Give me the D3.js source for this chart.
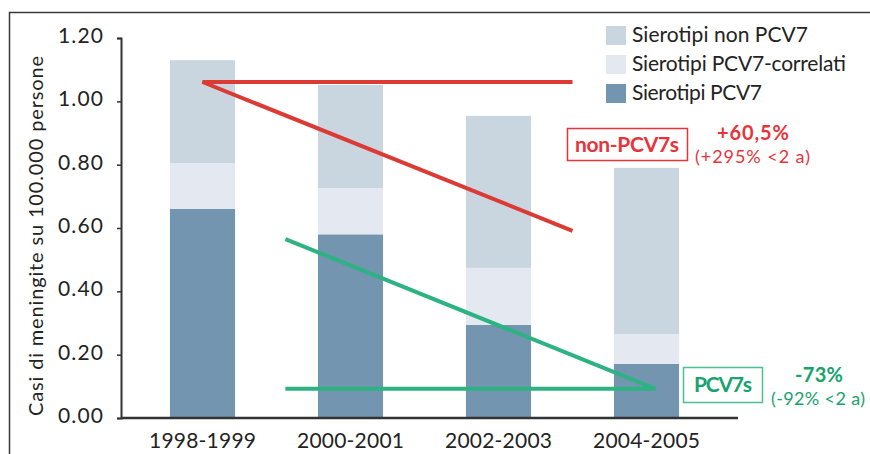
<!DOCTYPE html>
<html>
<head>
<meta charset="utf-8">
<script src="https://cdn.jsdelivr.net/npm/d3@7"></script>
<style>
  html, body { margin: 0; padding: 0; background: #fff; }
  svg { display: block; font-family: "Lato", "DejaVu Sans", sans-serif; }
</style>
</head>
<body>
<svg id="chart" width="870" height="454"></svg>
<script>
// Periods on the x axis
const periods = ["1998-1999", "2000-2001", "2002-2003", "2004-2005"];
// Meningitis cases per 100,000 people, by serotype group
const pcv7 = [0.66, 0.58, 0.294, 0.171];
const pcv7Related = [0.145, 0.146, 0.18, 0.094];
const nonPcv7 = [0.325, 0.326, 0.48, 0.525];
// Y axis ticks
const yTicks = [0, 0.2, 0.4, 0.6, 0.8, 1.0, 1.2];
// Legend entries (top to bottom)
const legendLabels = ["Sierotipi non PCV7", "Sierotipi PCV7-correlati", "Sierotipi PCV7"];
// Trend guides: x as period index, y as cases
const nonPcv7Trend = [[2.5, 1.061], [0, 1.061], [2.5, 0.591]];
const pcv7Trend = [[0.56, 0.565], [3.06, 0.092], [0.56, 0.092]];

const colors = { pcv7: "#7395b0", related: "#e4e9f1", non: "#c9d6e0" };
const red = "#dc3a34", green = "#2db282";
const ink = "#232323";

const svg = d3.select("#chart");

// Frame
svg.append("path")
  .attr("d", "M9.5,454 V12.5 H870")
  .attr("fill", "none").attr("stroke", "#3a3a3a").attr("stroke-width", 1.5);

const x = d3.scaleBand().domain(periods).range([128.5, 720.5])
  .paddingInner(0.56).paddingOuter(0.28);
const y = d3.scaleLinear().domain([0, 1.2]).range([418, 38]);
const xi = d3.scaleLinear().domain([0, 1])
  .range([x(periods[0]) + x.bandwidth() / 2, x(periods[1]) + x.bandwidth() / 2]);

// Stacked bars
const rows = periods.map((p, i) => ({ period: p, pcv7: pcv7[i], related: pcv7Related[i], non: nonPcv7[i] }));
const stack = d3.stack().keys(["pcv7", "related", "non"])(rows);
svg.append("g").selectAll("g").data(stack).join("g")
  .attr("fill", d => colors[d.key])
  .selectAll("rect").data(d => d).join("rect")
  .attr("x", d => x(d.data.period))
  .attr("width", x.bandwidth())
  .attr("y", d => y(d[1]))
  .attr("height", d => y(d[0]) - y(d[1]));

// Y axis
const yAxis = svg.append("g").attr("transform", "translate(121,0)")
  .call(d3.axisLeft(y).tickValues(yTicks).tickFormat(d3.format(".2f")).tickSize(4).tickPadding(14));
yAxis.select(".domain").attr("stroke", "#333").attr("stroke-width", 2);
yAxis.selectAll(".tick line").attr("stroke", "#333").attr("stroke-width", 1.5);
yAxis.selectAll(".tick text")
  .attr("font-size", 21).attr("fill", ink).attr("font-family", "Lato, sans-serif")
  .attr("dy", "0.22em")
  .attr("textLength", 45).attr("lengthAdjust", "spacing");

// X axis
const xAxis = svg.append("g").attr("transform", "translate(0,418)")
  .call(d3.axisBottom(x).tickSize(0).tickPadding(15));
xAxis.select(".domain").attr("d", "M121,0H738").attr("stroke", "#333").attr("stroke-width", 2.5);
xAxis.selectAll(".tick text")
  .attr("font-size", 21).attr("fill", ink).attr("font-family", "Lato, sans-serif")
  .attr("textLength", 107).attr("lengthAdjust", "spacing");

// Y axis title
svg.append("text")
  .attr("transform", "translate(43,236) rotate(-90)")
  .attr("text-anchor", "middle")
  .attr("font-size", 20).attr("fill", ink)
  .attr("textLength", 360).attr("lengthAdjust", "spacing")
  .text("Casi di meningite su 100.000 persone");

// Trend guides
const line = d3.line().x(d => xi(d[0])).y(d => y(d[1]));
svg.append("path").attr("d", line(nonPcv7Trend))
  .attr("fill", "none").attr("stroke", red).attr("stroke-width", 4);
svg.append("path").attr("d", line(pcv7Trend))
  .attr("fill", "none").attr("stroke", green).attr("stroke-width", 4);

// Legend
const legendColors = [colors.non, colors.related, colors.pcv7];
const legendWidths = [176, 214, 130];
const legend = svg.append("g").attr("transform", "translate(606,26)");
legendLabels.forEach((lab, i) => {
  const g = legend.append("g").attr("transform", `translate(0,${i * 29})`);
  g.append("rect").attr("width", 20).attr("height", 19).attr("fill", legendColors[i]);
  g.append("text").attr("x", 26).attr("y", 15.5).attr("font-size", 21).attr("fill", ink)
    .attr("textLength", legendWidths[i]).attr("lengthAdjust", "spacing").text(lab);
});

// Annotation helper
function note(tx, ty, str, size, weight, fill, width) {
  svg.append("text").attr("x", tx).attr("y", ty).attr("text-anchor", "middle")
    .attr("font-size", size).attr("font-weight", weight).attr("fill", fill)
    .attr("textLength", width).attr("lengthAdjust", "spacing").text(str);
}

// Annotation: non-PCV7 serotypes
svg.append("rect").attr("x", 567.5).attr("y", 128.5).attr("width", 120).attr("height", 32)
  .attr("fill", "#fff").attr("stroke", "#e8333a").attr("stroke-width", 1.5);
note(627, 151.5, "non-PCV7s", 21, "bold", "#e8333a", 104);
note(753, 140, "+60,5%", 20, "bold", "#e8333a", 72);
note(752.5, 163, "(+295% <2 a)", 18, "normal", "#e8333a", 115);

// Annotation: PCV7 serotypes
svg.append("rect").attr("x", 683.5).attr("y", 367.5).attr("width", 79).attr("height", 35)
  .attr("fill", "#fff").attr("stroke", "#4dbf91").attr("stroke-width", 1.5);
note(723, 392, "PCV7s", 21, "bold", "#16a36d", 58);
note(819, 382, "-73%", 20, "bold", "#16a36d", 48);
note(818, 405, "(-92% <2 a)", 18, "normal", "#16a36d", 94);
</script>
</body>
</html>
